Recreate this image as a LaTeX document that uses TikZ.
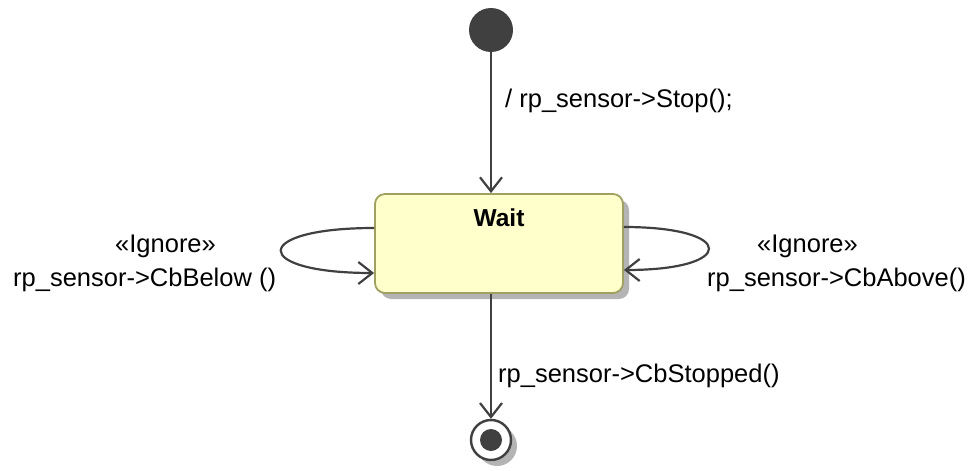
\documentclass[tikz,border=0pt]{standalone}
\usepackage{fontspec}
\setmainfont{Liberation Sans}
\usetikzlibrary{arrows.meta,shadows}
\definecolor{umlline}{HTML}{404040}
\definecolor{statefill}{HTML}{FFFFCC}
\definecolor{stateborder}{HTML}{A0A060}
\definecolor{umlshadow}{HTML}{B4B4B4}
\tikzset{
  umlfont/.style={font=\fontsize{25.5}{30}\selectfont},
  trans/.style={draw=umlline, line width=2.2pt, -{Straight Barb[length=14pt,width=22pt]}},
  translabel/.style={umlfont, inner sep=0pt},
  startdot/.style={circle, fill=umlline, minimum size=44pt, inner sep=0pt},
  enddot/.style={circle, draw=umlline, line width=2.4pt, fill=white, minimum size=40pt, inner sep=0pt,
    drop shadow={shadow xshift=6pt, shadow yshift=-6pt, fill=umlshadow, opacity=1}},
  enddotin/.style={circle, fill=umlline, minimum size=22pt, inner sep=0pt},
  statebox/.style={rectangle, rounded corners=10pt, draw=stateborder, line width=1.8pt, fill=statefill,
    minimum width=248pt, minimum height=99pt, inner sep=0pt,
    drop shadow={shadow xshift=6pt, shadow yshift=-6pt, fill=umlshadow, opacity=1}},
  statename/.style={font=\fontsize{24.5}{30}\selectfont\bfseries, inner sep=0pt}
}
\begin{document}
\begin{tikzpicture}[x=1pt, y=-1pt]
      \useasboundingbox (0,0) rectangle (978,471);
      % states
      \node[startdot] (start) at (491,30) {};
      \node[statebox] (wait) at (499,243.5) {};
      \node[statename, anchor=base] (waitname) at (499,226) {Wait};
      \node[enddot] (stop) at (491,440) {};
      \node[enddotin] (stopin) at (stop) {};
      % transitions
      \draw[trans] (start.south) -- (start |- wait.north);
      \draw[trans] (wait.south -| stop) -- (stop.north);
      \draw[trans] ([yshift=15.5pt]wait.west) .. controls +(-124,0) and +(-124,0) .. ([yshift=-29.5pt]wait.west);
      \draw[trans] ([yshift=16.5pt]wait.east) .. controls +(113,0) and +(113,0) .. ([yshift=-26.5pt]wait.east);
      % labels
      \node[translabel, anchor=base west] (stoplbl) at (505,107) {/ rp\_sensor->Stop();};
      \node[translabel, anchor=base west] (belowst) at (115,252) {«Ignore»};
      \node[translabel, anchor=base west] (belowlbl) at (13,286) {rp\_sensor->CbBelow ()};
      \node[translabel, anchor=base west] (abovest) at (757,252) {«Ignore»};
      \node[translabel, anchor=base west] (abovelbl) at (707,286) {rp\_sensor->CbAbove()};
      \node[translabel, anchor=base west] (stoppedlbl) at (498,382) {rp\_sensor->CbStopped()};
\end{tikzpicture}
\end{document}
